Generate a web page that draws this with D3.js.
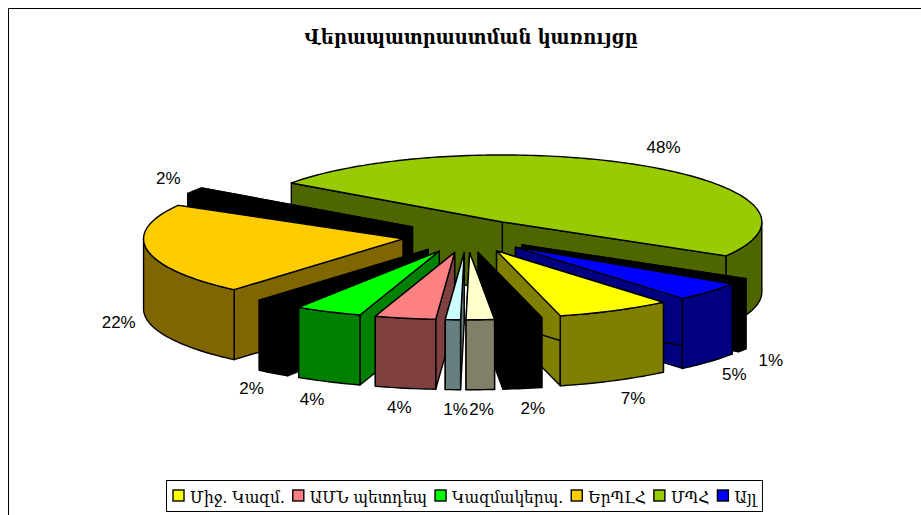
<!DOCTYPE html>
<html><head><meta charset="utf-8">
<script src="https://cdn.jsdelivr.net/npm/d3@7/dist/d3.min.js"></script>
<style>html,body{margin:0;padding:0;background:#fff}svg{display:block}</style>
</head><body><svg id="c" width="921" height="515"></svg>
<script>
const titleText = "Վերապատրաստման կառույցը";
const sliceValues = [48.56,0.83,4.61,7.17,2.42,1.75,0.94,3.78,4.17,2.17,22.05,1.56];
const sliceLabels = ["48%","1%","5%","7%","2%","2%","1%","4%","4%","2%","22%","2%"];
const sliceColors = ["#99CC00","#000000","#0000FF","#FFFF00","#000000","#FFFFCC","#CCFFFF","#FF8080","#00FF00","#000000","#FFCC00","#000000"];
const wallColors  = ["#4D6600","#000000","#000080","#808000","#000000","#808066","#668080","#804040","#008000","#000000","#806600","#000000"];
const legendNames = ["Միջ. Կազմ.","ԱՄՆ պետդեպ","Կազմակերպ.","ԵրՊԼՀ","ՄՊՀ","Այլ"];
const legendColors = ["#FFFF00","#FF8080","#00FF00","#FFCC00","#99CC00","#0000FF"];
const labelShiftX = [3,2,2,4,5,0,4,0,-3,-3,2,0];

const startDeg = 305.6, cx = 467, cy = 236, rx = 259.5, ry = 67, depth = 70, explode = 0.25;
const svg = d3.select("#c");
svg.append("path").attr("d","M8.5,515V8.5H921").attr("fill","none").attr("stroke","#000").attr("stroke-width",1);
svg.append("text").text(titleText).attr("x",471).attr("y",44).attr("text-anchor","middle")
  .attr("font-family","'DejaVu Serif Condensed'").attr("font-weight","bold").attr("font-size",20).attr("fill","#000");

const pie = d3.pie().sort(null).startAngle(startDeg*Math.PI/180).endAngle((startDeg+360)*Math.PI/180);
const arcs = pie(sliceValues).map((d,i)=>{
  const mid=(d.startAngle+d.endAngle)/2;
  return {a0:d.startAngle,a1:d.endAngle,mid,i,
    ax:cx+explode*rx*Math.sin(mid), ay:cy-explode*ry*Math.cos(mid)};
});
const pt=(s,t,dy=0)=>[s.ax+rx*Math.sin(t), s.ay-ry*Math.cos(t)+dy];
const range=(a,b)=>{const n=Math.max(2,Math.ceil((b-a)/0.02));return d3.range(n+1).map(k=>a+(b-a)*k/n);};
const poly=(pts)=>d3.line()(pts)+"Z";
const order=arcs.slice().sort((p,q)=>Math.cos(q.mid)-Math.cos(p.mid));
const PI=Math.PI;
const gs=svg.append("g").attr("stroke","#000").attr("stroke-width",1.4).attr("stroke-linejoin","round");
order.forEach(s=>{
  const wall=wallColors[s.i], top=sliceColors[s.i];
  [s.a1,s.a0].forEach(t=>{
    gs.append("path").attr("fill",wall).attr("d",poly([[s.ax,s.ay],pt(s,t),pt(s,t,depth),[s.ax,s.ay+depth]]));
  });
  [[PI/2,3*PI/2],[PI/2+2*PI,3*PI/2+2*PI]].forEach(([lo,hi])=>{
    const a=Math.max(s.a0,lo), b=Math.min(s.a1,hi);
    if(b>a){
      const r=range(a,b);
      gs.append("path").attr("fill",wall).attr("d",poly(r.map(t=>pt(s,t)).concat(r.slice().reverse().map(t=>pt(s,t,depth)))));
    }
  });
  gs.append("path").attr("fill",top).attr("d",poly([[s.ax,s.ay]].concat(range(s.a0,s.a1).map(t=>pt(s,t)))));
});
const gl=svg.append("g").attr("font-family","'Liberation Sans'").attr("font-size",17).attr("fill","#000").attr("text-anchor","middle");
arcs.forEach(s=>{
  const c=Math.cos(s.mid), sn=Math.sin(s.mid);
  const p=pt(s,s.mid,c<0?depth:0);
  gl.append("text").text(sliceLabels[s.i]).attr("x",p[0]+31*sn+labelShiftX[s.i]).attr("y",p[1]-21*c+4.5);
});
const lx0=166.5, ly0=480.5, lh=31;
const leg=svg.append("g");
const box=leg.append("rect").attr("x",lx0).attr("y",ly0).attr("height",lh).attr("fill","#fff").attr("stroke","#000");
let x=lx0+6.5;
legendNames.forEach((n,i)=>{
  leg.append("rect").attr("x",x).attr("y",ly0+9.5).attr("width",11).attr("height",11).attr("fill",legendColors[i]).attr("stroke","#000").attr("stroke-width",1.4);
  const t=leg.append("text").text(n).attr("x",x+17).attr("y",ly0+22).attr("font-family","'DejaVu Serif Condensed'").attr("font-size",17.2).attr("fill","#000");
  x+=17+t.node().getComputedTextLength()+8;
});
box.attr("width",x-lx0-2);
</script></body></html>
